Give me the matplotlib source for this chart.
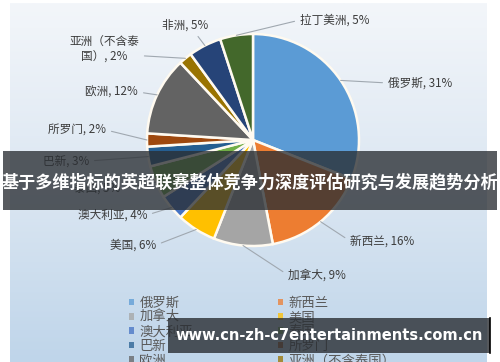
import numpy as np
import matplotlib
matplotlib.use('Agg')
from matplotlib import pyplot as plt
from matplotlib.colors import LinearSegmentedColormap
from matplotlib.patches import Rectangle

plt.rcParams['font.family'] = ['Noto Sans CJK SC', 'DejaVu Sans']

# 各地区占比
regions = ['俄罗斯', '新西兰', '加拿大', '美国', '澳大利亚', '泰国', '巴新',
           '所罗门', '欧洲', '亚洲（不含泰国）', '非洲', '拉丁美洲']
shares = [31, 16, 9, 6, 4, 5, 3, 2, 12, 2, 5, 5]
colors = ['#5B9BD5', '#ED7D31', '#A5A5A5', '#FFC000', '#4472C4', '#70AD47',
          '#255E91', '#9E480E', '#636363', '#997300', '#264478', '#43682B']
title = '基于多维指标的英超联赛整体竞争力深度评估研究与发展趋势分析'
url = 'www.cn-zh-c7entertainments.com.cn'

H = 362
Y = lambda yp: H - yp  # 像素坐标 -> 数据坐标

fig = plt.figure(figsize=(5, 3.62), dpi=100)
ax = fig.add_axes([0, 0, 1, 1])

# 背景渐变
grad = np.linspace(0, 1, 200).reshape(-1, 1)
cmap = LinearSegmentedColormap.from_list('bg', ['#f3f6fa', '#dce7f2', '#bfd5ea'])
ax.imshow(grad, extent=(10, 487, 0, Y(3)), aspect='auto', cmap=cmap, origin='upper', zorder=0)

cx, cy, r = 253, Y(140), 106
wedges, _ = ax.pie(shares, colors=colors, startangle=90, counterclock=False,
                   center=(cx, cy), radius=r,
                   wedgeprops=dict(edgecolor='#fffaf0', linewidth=1.8))
for w in wedges:
    w.set_zorder(2)

# 标签位置 (像素坐标, 对齐方式)
label_pos = {
    '俄罗斯': (388, 83, 'left'),
    '新西兰': (350, 241, 'left'),
    '加拿大': (288, 275, 'left'),
    '美国': (156, 245, 'right'),
    '澳大利亚': (147, 215, 'right'),
    '泰国': (120, 189, 'right'),
    '巴新': (89, 161, 'right'),
    '所罗门': (106, 130, 'right'),
    '欧洲': (138, 92, 'right'),
    '亚洲（不含泰国）': (104, 50, 'center'),
    '非洲': (185, 25, 'center'),
    '拉丁美洲': (300, 20, 'left'),
}
cum = np.cumsum([0] + shares)
for i, name in enumerate(regions):
    mid = 90 - (cum[i] + shares[i] / 2) / sum(shares) * 360
    px = cx + r * np.cos(np.radians(mid))
    py = cy + r * np.sin(np.radians(mid))
    tx, ty, ha = label_pos[name]
    text = f'{name}, {shares[i]}%'
    if name == '亚洲（不含泰国）':
        text = '亚洲（不含泰\n国）, 2%'
    relpos = {'left': (0, 0.5), 'right': (1, 0.5), 'center': (1, 0.3)}[ha]
    if name == '非洲':
        relpos = (0.7, 0)
    ax.annotate(text, xy=(px, py), xytext=(tx, Y(ty)), ha=ha, va='center',
                fontsize=8.4, color='#3c3c3c', multialignment='center',
                arrowprops=dict(arrowstyle='-', color='#a0a8b0', lw=0.8,
                                relpos=relpos, shrinkA=2, shrinkB=0),
                zorder=3)

# 图例（按行排列）
order = list(range(0, len(regions), 2)) + list(range(1, len(regions), 2))
leg = ax.legend([wedges[i] for i in order], [regions[i] for i in order],
                ncol=2, loc='upper left', bbox_to_anchor=(122 / 500, 1 - 289 / H),
                frameon=False, fontsize=9.6, labelcolor='#595959',
                handlelength=0.4, handleheight=0.4, handletextpad=0.4,
                labelspacing=0.03, columnspacing=6.4, borderpad=0)
for h in leg.legend_handles:
    h.set_edgecolor('none')
    h.set_alpha(0.75)
leg.set_zorder(3)

# 标题横幅
ax.add_patch(Rectangle((3, Y(210)), 494, 59, facecolor='#2a2e33', alpha=0.78,
                       edgecolor='none', zorder=5))
ax.text(250, Y(182), title, ha='center', va='center', color='white',
        fontsize=12.3, fontweight='bold', zorder=6)

# 网址横幅
ax.add_patch(Rectangle((168, Y(353)), 322, 35, facecolor='#2a2e33', alpha=0.8,
                       edgecolor='none', zorder=5))
ax.plot([490, 490], [Y(353), Y(318)], color='black', lw=1.2, zorder=6)
ax.text(329, Y(336), url, ha='center', va='center', color='white',
        fontsize=10.5, fontweight='bold', family='DejaVu Sans', zorder=6)

ax.set_xlim(0, 500)
ax.set_ylim(0, H)
ax.set_aspect('equal')
ax.axis('off')
fig.savefig('out.png', dpi=100, facecolor='white')
